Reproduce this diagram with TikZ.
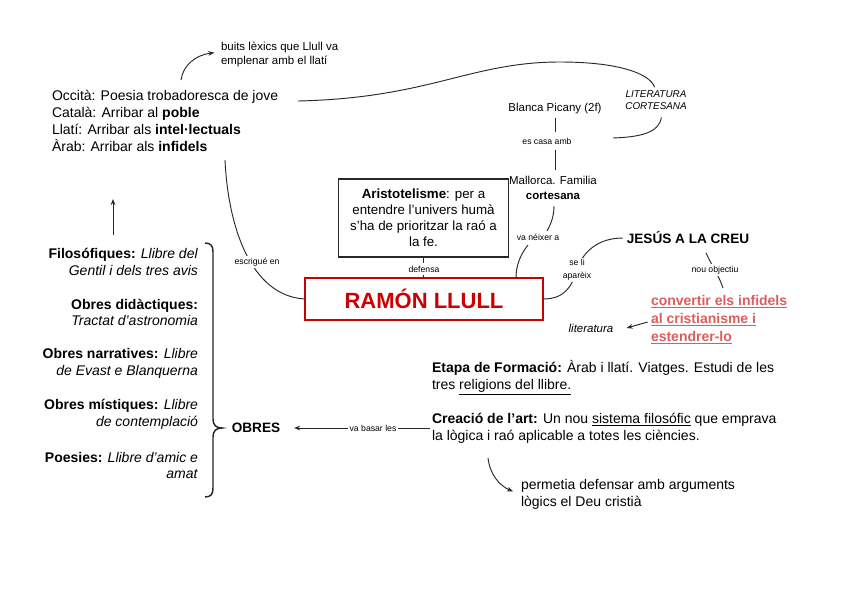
\documentclass[tikz,border=0pt]{standalone}
\usepackage{fontspec}
\setmainfont{Liberation Sans}
\usetikzlibrary{arrows.meta}
\definecolor{llred}{RGB}{204,0,0}
\definecolor{pinkred}{RGB}{222,92,92}
\definecolor{lineg}{RGB}{40,40,40}
\begin{document}
\begin{tikzpicture}[x=0.75pt,y=-0.75pt,
  every node/.style={inner sep=0pt, outer sep=0pt},
  con/.style={draw=lineg, line width=0.7pt},
  arr/.style={con, -{Stealth[length=4.5pt,width=3.5pt]}},
  small/.style={font=\fontsize{6.5}{8.5}\selectfont},
  lbl/.style={small, fill=white, inner sep=1.2pt},
  body/.style={font=\fontsize{10.5}{12.6}\selectfont},
  mid/.style={font=\fontsize{8.6}{10.5}\selectfont}]
\useasboundingbox (0,0) rectangle (848,600);

% top-left block
\node[mid, align=left, anchor=west] (buits) at (221,54) {buits lèxics que Llull va\\emplenar amb el llatí};
\node[body, align=left, anchor=west] (occ) at (52,121) {Occità: Poesia trobadoresca de jove\\Català: Arribar al \textbf{poble}\\Llatí: Arribar als \textbf{intel·lectuals}\\Àrab: Arribar als \textbf{infidels}};
\coordinate (b1) at (181,80);
\draw[arr] (b1) .. controls (183,65) and (196,55) .. ([xshift=-5pt,yshift=1pt]buits.west);

% literatura cortesana
\node[font=\fontsize{7.4}{9}\selectfont\itshape, align=center] (lit) at (656,100) {LITERATURA\\CORTESANA};
\coordinate (o1) at (298,101);
\draw[con] (o1) .. controls (430,98) and (470,62) .. (560,62) .. controls (620,62) and (650,74) .. ([xshift=-1pt,yshift=2.5pt]lit.north);
\coordinate (l2) at (613,138);
\draw[con] ([xshift=4pt,yshift=-6pt]lit.south) .. controls (659,133) and (640,137) .. (l2);

% Blanca / Mallorca chain
\node[mid] (blanca) at (555,109) {Blanca Picany (2f)};
\node[small] (casa) at (547,141) {es casa amb};
\node[mid, align=center, font=\fontsize{8.6}{11.2}\selectfont] (mall) at (553,188) {Mallorca. Familia\\\textbf{cortesana}};
\draw[con] ([yshift=-3pt]blanca.south) -- ([yshift=4pt]blanca.south |- casa.north);
\draw[con] ([yshift=-4pt]blanca.south |- casa.south) -- ([yshift=5pt]blanca.south |- mall.north);
\node[small] (neix) at (538,237) {va néixer a};
\coordinate (n1) at (554,206);
\coordinate (n2) at (547,231);
\coordinate (n3) at (528,245);
\draw[con] (n1) .. controls (554,216) and (551,224) .. (n2);

% Aristotelisme box
\node[draw=lineg, line width=0.8pt, minimum width=128pt, minimum height=58.5pt, align=center,
      font=\fontsize{10}{12}\selectfont] (arist) at (423.5,218)
  {\textbf{Aristotelisme}: per a\\entendre l'univers humà\\s'ha de prioritzar la raó a\\la fe.};

% Ramon Llull
\node[draw=llred, line width=1.3pt, minimum width=178.5pt, minimum height=31.5pt, text=llred,
      font=\fontsize{16.5}{18}\selectfont\bfseries] (ram) at (424,299) {RAMÓN LLULL};
\draw[con] (arist.south) -- (arist.south |- ram.north);
\node[lbl, inner sep=2pt] (def) at (424,269) {defensa};
\draw[con] (n3) .. controls (520,255) and (516,266) .. ([xshift=69pt]ram.north);

% escrigue en
\coordinate (e1) at (225,160);
\draw[con] (e1) .. controls (228,225) and (250,296) .. (ram.west);
\node[lbl] (escr) at (257,262) {escrigué en};

% Jesus a la creu
\node[font=\fontsize{10.2}{12}\selectfont\bfseries] (jesus) at (688,238) {JESÚS A LA CREU};
\draw[con] (ram.east) .. controls (565,299) and (572,286) .. (577,270) .. controls (583,250) and (600,238) .. ([xshift=-3pt]jesus.west);
\node[lbl, align=center, font=\fontsize{6.5}{9.5}\selectfont] (apar) at (577,270) {se li\\aparèix};

% nou objectiu / convertir
\node[text=pinkred, align=left, anchor=west, font=\fontsize{10.5}{13.5}\selectfont\bfseries] (conv) at (651,320)
  {\underline{convertir els infidels}\\\underline{al cristianisme i}\\\underline{estendrer-lo}};
\coordinate (j1) at (706,253);
\draw[con] (j1) .. controls (712,266) and (719,276) .. (723,288);
\node[lbl] (nou) at (715,270) {nou objectiu};
\node[font=\fontsize{8.6}{10}\selectfont\itshape] (lite) at (591,328) {literatura};
\draw[arr] ([xshift=-2.5pt,yshift=-1.5pt]conv.west) -- ([xshift=10pt]lite.east);

% Etapa / Creacio
\node[align=left, anchor=west, font=\fontsize{10.5}{12.8}\selectfont] (etapa) at (432,378)
  {\textbf{Etapa de Formació:} Àrab i llatí. Viatges. Estudi de les\\tres \underline{religions del llibre.}};
\node[align=left, anchor=west, font=\fontsize{10.5}{12.8}\selectfont] (crea) at (432,428)
  {\textbf{Creació de l'art:} Un nou \underline{sistema filosófic} que emprava\\la lògica i raó aplicable a totes les ciències.};
\node[font=\fontsize{10.2}{12}\selectfont\bfseries] (obres) at (256,428) {OBRES};
\draw[arr] ([xshift=-1.5pt]crea.west) -- ([xshift=10.5pt]obres.east);
\node[lbl] (basar) at (373,428) {va basar les};

\node[align=left, anchor=west, font=\fontsize{10.5}{12.8}\selectfont] (perm) at (521,494)
  {permetia defensar amb arguments\\lògics el Deu cristià};
\coordinate (c1) at (488,458);
\draw[arr] (c1) .. controls (490,475) and (500,486) .. ([xshift=-6pt,yshift=2pt]perm.west);

% left list
\tikzset{listitem/.style={align=right, anchor=east, font=\fontsize{10.5}{12.4}\selectfont}}
\node[listitem] (filo) at (198,262) {\textbf{Filosófiques:} \textit{Llibre del}\\\textit{Gentil i dels tres avis}};
\node[listitem] (dida) at (198,312.5) {\textbf{Obres didàctiques:}\\\textit{Tractat d'astronomia}};
\node[listitem] (narr) at (198,363.5) {\textbf{Obres narratives:} \textit{Llibre}\\\textit{de Evast e Blanquerna}};
\node[listitem] (mist) at (198,414.5) {\textbf{Obres místiques:} \textit{Llibre}\\\textit{de contemplació}};
\node[listitem] (poes) at (198,465.5) {\textbf{Poesies:} \textit{Llibre d'amic e}\\\textit{amat}};

\coordinate (u1) at (113,235);
\coordinate (u2) at (113,199);
\draw[arr] (u1) -- (u2);

% brace
\draw[line width=1.1pt, draw=black!85] (205,243) .. controls (211,243) and (213,246) .. (213,252)
  -- (213,419) .. controls (213,425) and (216,428) .. (222,428)
  .. controls (216,428) and (213,431) .. (213,437)
  -- (213,488) .. controls (213,494) and (211,497) .. (205,497);
\end{tikzpicture}
\end{document}
